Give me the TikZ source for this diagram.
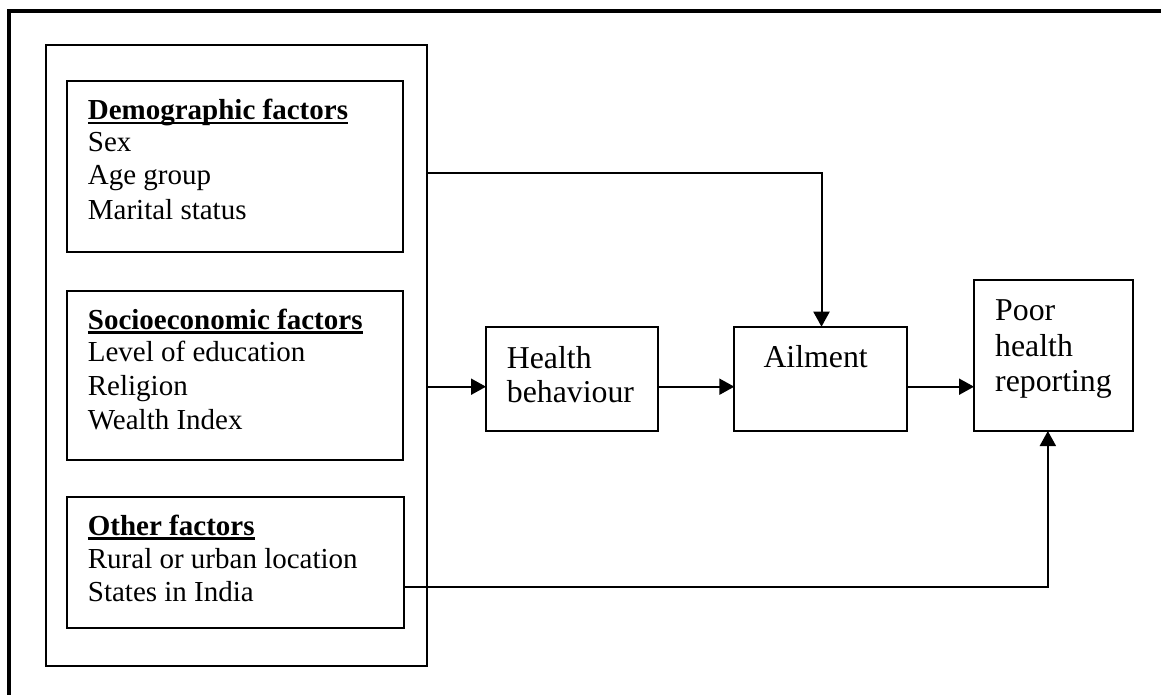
\documentclass[tikz,border=0pt]{standalone}
\usepackage{fontspec}
\setmainfont{Liberation Serif}
\usetikzlibrary{arrows.meta}
\newcommand\hdul[1]{\setbox0\hbox{\bfseries #1}\rlap{\rule[-4.6pt]{\wd0}{2.2pt}}\box0}
\begin{document}
\begin{tikzpicture}[x=1pt,y=-1pt,
  box/.style={draw, line width=2pt, inner sep=0pt, outer sep=0pt, anchor=north west},
  txt/.style={anchor=base west, inner sep=0pt, font=\fontsize{29}{34}\selectfont},
  big/.style={anchor=base west, inner sep=0pt, font=\fontsize{31.8}{36}\selectfont},
  arr/.style={line width=2pt, -{Triangle[length=15pt,width=16pt]}}]
\useasboundingbox (0,0) rectangle (1161,695);
\clip (0,0) rectangle (1161,695);
\fill[white] (0,0) rectangle (1161,695);
% outer frame (partly cut off)
\draw[line width=4pt] (9,730) -- (9,11.5) -- (1190,11.5);
% boxes
\node[box, minimum width=380.7pt, minimum height=621pt] (container) at (46,45) {};
\node[box, minimum width=336.3pt, minimum height=171pt] (demo) at (66.7,80.7) {};
\node[box, minimum width=336.3pt, minimum height=169.3pt] (socio) at (66.7,290.7) {};
\node[box, minimum width=336.5pt, minimum height=130.7pt] (other) at (67,497.3) {};
\node[box, minimum width=172.3pt, minimum height=104pt] (health) at (486,326.7) {};
\node[box, minimum width=172.4pt, minimum height=104.3pt] (ailment) at (734.3,326.7) {};
\node[box, minimum width=158.7pt, minimum height=151pt] (poor) at (974,280) {};
% texts
\node[txt] (d1) at (87.7,119.3) {\hdul{Demographic factors}};
\node[txt] (d2) at (87.7,151.7) {Sex};
\node[txt] (d3) at (87.7,185) {Age group};
\node[txt] (d4) at (87.7,219) {Marital status};
\node[txt] (s1) at (87.7,329) {\hdul{Socioeconomic factors}};
\node[txt] (s2) at (87.7,361.7) {Level of education};
\node[txt] (s3) at (87.7,395) {Religion};
\node[txt] (s4) at (87.7,429) {Wealth Index};
\node[txt] (o1) at (87.7,535) {\hdul{Other factors}};
\node[txt] (o2) at (87.7,568.3) {Rural or urban location};
\node[txt] (o3) at (87.7,601.7) {States in India};
\node[big] (h1) at (506.7,368.3) {Health};
\node[big] (h2) at (506.7,402.7) {behaviour};
\node[big] (a1) at (763.3,367.3) {Ailment};
\node[big] (p1) at (995,320) {Poor};
\node[big] (p2) at (995,356.7) {health};
\node[big] (p3) at (995,391.7) {reporting};
% connector rows
\coordinate (rowmid) at (0,386.7);
\coordinate (rowtop) at (0,173);
\coordinate (rowbot) at (0,587);
\draw[arr] (container.east |- rowmid) -- (health.west |- rowmid);
\draw[arr] (health.east |- rowmid) -- (ailment.west |- rowmid);
\draw[arr] (ailment.east |- rowmid) -- (poor.west |- rowmid);
\draw[arr] (container.east |- rowtop) -| ([xshift=1pt]ailment.north);
\draw[arr] (other.east |- rowbot) -| ([xshift=-5.5pt]poor.south);
\end{tikzpicture}
\end{document}
